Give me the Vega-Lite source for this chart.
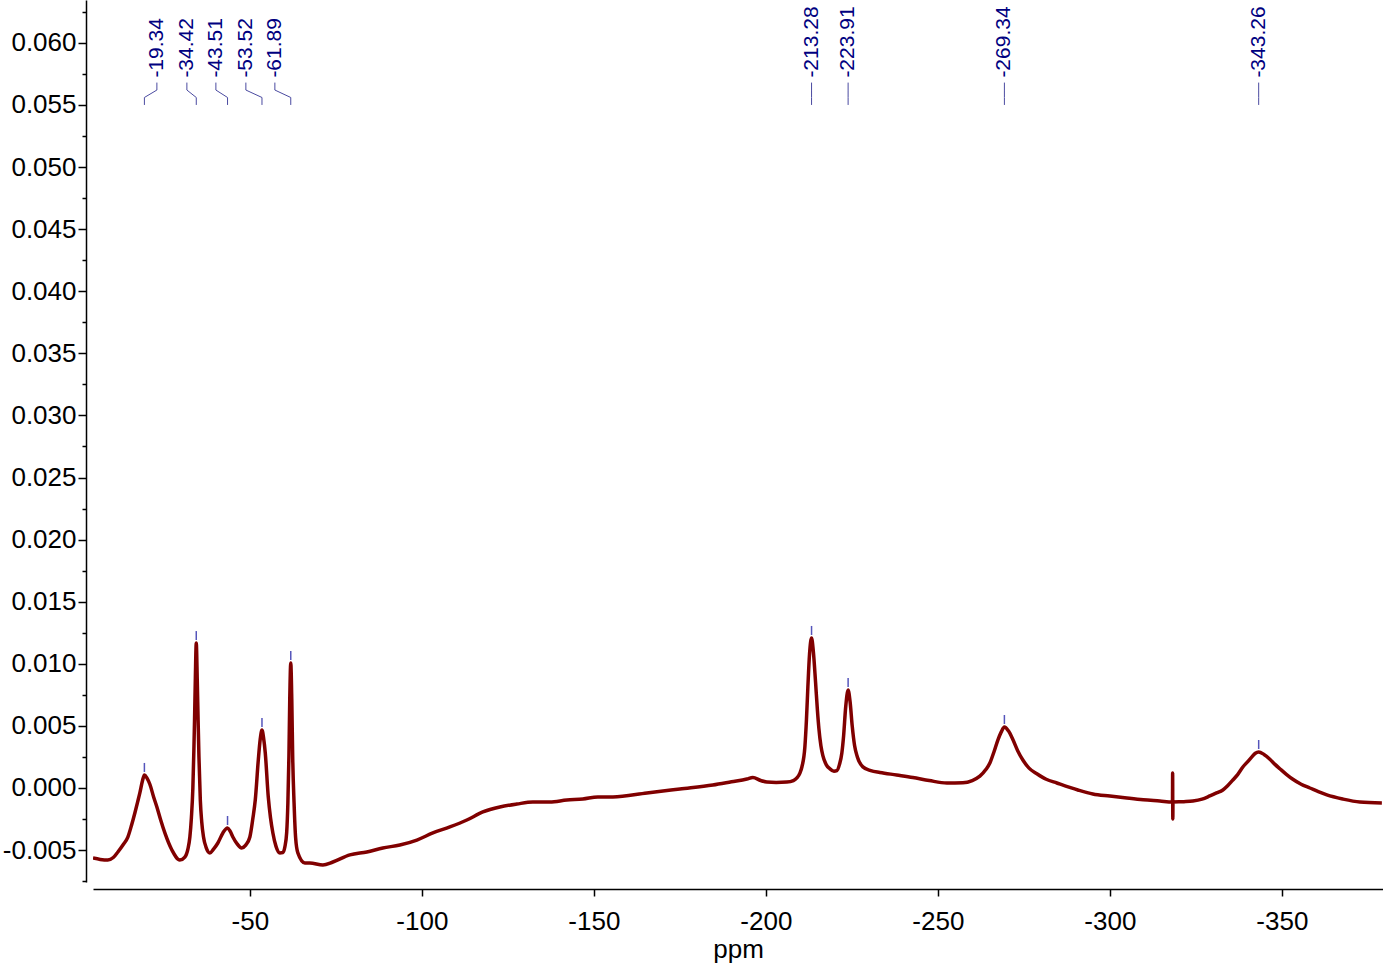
{
  "$schema": "https://vega.github.io/schema/vega-lite/v6.json",
  "width": 1290,
  "height": 882,
  "autosize": "none",
  "padding": {"left": 93, "top": 0, "right": 0, "bottom": 83},
  "background": "white",
  "config": {"view": {"stroke": null}},
  "resolve": {"axis": {"y": "independent"}},
  "datasets": {
    "spectrum": [
      {"ppm": -4.4, "v": -0.00564}, {"ppm": -6.5, "v": -0.00575}, {"ppm": -8.72, "v": -0.0058}, {"ppm": -10.3, "v": -0.0056}, {"ppm": -11.63, "v": -0.00515}, {"ppm": -13.2, "v": -0.00455}, {"ppm": -14.53, "v": -0.00395},
      {"ppm": -15.6, "v": -0.003}, {"ppm": -16.57, "v": -0.00201}, {"ppm": -17.4, "v": -0.0011}, {"ppm": -18.02, "v": -0.0004}, {"ppm": -18.8, "v": 0.0006}, {"ppm": -19.34, "v": 0.00105}, {"ppm": -20.1, "v": 0.0008}, {"ppm": -20.93, "v": 0.0003},
      {"ppm": -22.0, "v": -0.0007}, {"ppm": -22.97, "v": -0.00153}, {"ppm": -24.1, "v": -0.0026}, {"ppm": -25.29, "v": -0.00362}, {"ppm": -27.33, "v": -0.00499}, {"ppm": -29.65, "v": -0.0058},
      {"ppm": -31.1, "v": -0.00556}, {"ppm": -32.0, "v": -0.0049}, {"ppm": -32.56, "v": -0.00395}, {"ppm": -33.0, "v": -0.0024}, {"ppm": -33.43, "v": 0.0}, {"ppm": -33.72, "v": 0.0030}, {"ppm": -33.92, "v": 0.0055},
      {"ppm": -34.15, "v": 0.0088}, {"ppm": -34.42, "v": 0.01167}, {"ppm": -34.7, "v": 0.0088}, {"ppm": -34.95, "v": 0.0055}, {"ppm": -35.2, "v": 0.0025},
      {"ppm": -35.6, "v": -0.001}, {"ppm": -36.0, "v": -0.0027}, {"ppm": -36.5, "v": -0.0039}, {"ppm": -37.3, "v": -0.0048}, {"ppm": -38.37, "v": -0.00523}, {"ppm": -39.5, "v": -0.0049}, {"ppm": -40.7, "v": -0.00443},
      {"ppm": -42.2, "v": -0.0036}, {"ppm": -43.51, "v": -0.00322}, {"ppm": -44.3, "v": -0.0035}, {"ppm": -45.06, "v": -0.00395}, {"ppm": -46.3, "v": -0.0045}, {"ppm": -47.59, "v": -0.00483}, {"ppm": -48.8, "v": -0.0046}, {"ppm": -50.0, "v": -0.00395},
      {"ppm": -50.9, "v": -0.0024}, {"ppm": -51.57, "v": -0.00097}, {"ppm": -52.45, "v": 0.00225}, {"ppm": -53.0, "v": 0.0039}, {"ppm": -53.52, "v": 0.00467}, {"ppm": -54.0, "v": 0.0040}, {"ppm": -54.48, "v": 0.00282},
      {"ppm": -55.35, "v": -0.00072}, {"ppm": -56.0, "v": -0.0024}, {"ppm": -56.69, "v": -0.00362}, {"ppm": -57.6, "v": -0.0047}, {"ppm": -58.72, "v": -0.00523}, {"ppm": -59.6, "v": -0.0052}, {"ppm": -60.17, "v": -0.00475},
      {"ppm": -60.7, "v": -0.0036}, {"ppm": -61.05, "v": -0.00121}, {"ppm": -61.35, "v": 0.0025}, {"ppm": -61.6, "v": 0.0072}, {"ppm": -61.89, "v": 0.01006}, {"ppm": -62.18, "v": 0.0072}, {"ppm": -62.45, "v": 0.0025},
      {"ppm": -62.85, "v": -0.00121}, {"ppm": -63.3, "v": -0.0040}, {"ppm": -63.95, "v": -0.00523}, {"ppm": -65.99, "v": -0.00604}, {"ppm": -67.44, "v": -0.00604},
      {"ppm": -71.22, "v": -0.0062}, {"ppm": -74.13, "v": -0.00596}, {"ppm": -79.07, "v": -0.00539}, {"ppm": -84.01, "v": -0.00515},
      {"ppm": -88.66, "v": -0.00483}, {"ppm": -93.6, "v": -0.00459}, {"ppm": -98.55, "v": -0.00419}, {"ppm": -103.2, "v": -0.00362},
      {"ppm": -108.14, "v": -0.00314}, {"ppm": -113.08, "v": -0.00258}, {"ppm": -117.73, "v": -0.00193}, {"ppm": -122.67, "v": -0.00153},
      {"ppm": -127.62, "v": -0.00129}, {"ppm": -132.27, "v": -0.00113}, {"ppm": -137.21, "v": -0.00113}, {"ppm": -142.15, "v": -0.00097},
      {"ppm": -146.8, "v": -0.00089}, {"ppm": -151.16, "v": -0.00072}, {"ppm": -155.52, "v": -0.00072}, {"ppm": -165.41, "v": -0.0004},
      {"ppm": -175.0, "v": -0.00008}, {"ppm": -184.59, "v": 0.00024}, {"ppm": -190.0, "v": 0.0005}, {"ppm": -194.48, "v": 0.00072}, {"ppm": -196.22, "v": 0.00085},
      {"ppm": -198.5, "v": 0.0006}, {"ppm": -200.29, "v": 0.00048}, {"ppm": -203.0, "v": 0.00045}, {"ppm": -206.1, "v": 0.00048}, {"ppm": -208.0, "v": 0.0006}, {"ppm": -209.01, "v": 0.00081}, {"ppm": -209.9, "v": 0.0012}, {"ppm": -210.47, "v": 0.00169},
      {"ppm": -211.34, "v": 0.0033}, {"ppm": -211.8, "v": 0.0055}, {"ppm": -212.21, "v": 0.00813}, {"ppm": -212.7, "v": 0.0108}, {"ppm": -213.28, "v": 0.01208}, {"ppm": -213.8, "v": 0.0110}, {"ppm": -214.45, "v": 0.0085},
      {"ppm": -215.0, "v": 0.0062}, {"ppm": -215.41, "v": 0.0048}, {"ppm": -216.0, "v": 0.0034}, {"ppm": -216.57, "v": 0.0026}, {"ppm": -217.5, "v": 0.0019}, {"ppm": -218.6, "v": 0.00155}, {"ppm": -219.8, "v": 0.00135}, {"ppm": -220.64, "v": 0.0014},
      {"ppm": -221.4, "v": 0.0019}, {"ppm": -222.09, "v": 0.00282}, {"ppm": -222.6, "v": 0.0042}, {"ppm": -223.2, "v": 0.0065}, {"ppm": -223.91, "v": 0.00789}, {"ppm": -224.5, "v": 0.0069}, {"ppm": -225.1, "v": 0.0050},
      {"ppm": -225.8, "v": 0.0034}, {"ppm": -226.6, "v": 0.0025}, {"ppm": -228.2, "v": 0.0017}, {"ppm": -230.5, "v": 0.0014}, {"ppm": -233.14, "v": 0.00125}, {"ppm": -238.0, "v": 0.00105}, {"ppm": -242.73, "v": 0.00085},
      {"ppm": -247.5, "v": 0.0006}, {"ppm": -252.62, "v": 0.0004}, {"ppm": -257.27, "v": 0.00042}, {"ppm": -260.0, "v": 0.0006}, {"ppm": -262.21, "v": 0.00095}, {"ppm": -264.0, "v": 0.0015}, {"ppm": -265.12, "v": 0.00201}, {"ppm": -266.3, "v": 0.0029},
      {"ppm": -267.44, "v": 0.00386}, {"ppm": -268.4, "v": 0.0045}, {"ppm": -269.34, "v": 0.00491}, {"ppm": -270.5, "v": 0.0046}, {"ppm": -271.8, "v": 0.0039}, {"ppm": -273.2, "v": 0.0030}, {"ppm": -274.71, "v": 0.00225},
      {"ppm": -276.5, "v": 0.0016}, {"ppm": -278.78, "v": 0.00115}, {"ppm": -281.5, "v": 0.0007}, {"ppm": -284.59, "v": 0.0004}, {"ppm": -290.7, "v": -0.00016}, {"ppm": -295.06, "v": -0.00048},
      {"ppm": -300.0, "v": -0.00065}, {"ppm": -304.94, "v": -0.00081}, {"ppm": -309.7, "v": -0.00095}, {"ppm": -314.53, "v": -0.00105}, {"ppm": -318.2, "v": -0.00113}, {"ppm": -318.25, "v": 0.00121},
      {"ppm": -318.3, "v": -0.0025}, {"ppm": -318.35, "v": -0.00113}, {"ppm": -321.5, "v": -0.0011}, {"ppm": -324.13, "v": -0.00105}, {"ppm": -326.8, "v": -0.0009}, {"ppm": -329.07, "v": -0.00064}, {"ppm": -331.0, "v": -0.0004},
      {"ppm": -332.85, "v": -0.00016}, {"ppm": -334.3, "v": 0.0002}, {"ppm": -335.76, "v": 0.00064}, {"ppm": -337.2, "v": 0.0011}, {"ppm": -338.66, "v": 0.00169}, {"ppm": -340.0, "v": 0.0021}, {"ppm": -341.28, "v": 0.0025},
      {"ppm": -342.3, "v": 0.0028}, {"ppm": -343.26, "v": 0.0029}, {"ppm": -344.8, "v": 0.0027}, {"ppm": -346.51, "v": 0.00232}, {"ppm": -348.0, "v": 0.0019}, {"ppm": -349.42, "v": 0.00155}, {"ppm": -351.3, "v": 0.0011}, {"ppm": -353.2, "v": 0.0007},
      {"ppm": -355.6, "v": 0.0003}, {"ppm": -358.14, "v": 0.0}, {"ppm": -360.6, "v": -0.0003}, {"ppm": -363.08, "v": -0.00056}, {"ppm": -367.73, "v": -0.00089}, {"ppm": -372.67, "v": -0.00113},
      {"ppm": -379.07, "v": -0.00121}
    ],
    "peaks": [
      {"ppm": -19.34, "label_ppm": -22.97, "h": 0.00105, "label": "-19.34"},
      {"ppm": -34.42, "label_ppm": -31.69, "h": 0.01167, "label": "-34.42"},
      {"ppm": -43.51, "label_ppm": -40.12, "h": -0.00322, "label": "-43.51"},
      {"ppm": -53.52, "label_ppm": -48.84, "h": 0.00467, "label": "-53.52"},
      {"ppm": -61.89, "label_ppm": -57.27, "h": 0.01006, "label": "-61.89"},
      {"ppm": -213.28, "label_ppm": -213.28, "h": 0.01208, "label": "-213.28"},
      {"ppm": -223.91, "label_ppm": -223.91, "h": 0.00789, "label": "-223.91"},
      {"ppm": -269.34, "label_ppm": -269.34, "h": 0.00491, "label": "-269.34"},
      {"ppm": -343.26, "label_ppm": -343.26, "h": 0.0029, "label": "-343.26"}
    ]
  },
  "layer": [
    {
      "data": {"name": "spectrum"},
      "mark": {"type": "line", "color": "#800000", "strokeWidth": 3.5, "interpolate": "monotone", "clip": true},
      "encoding": {
        "x": {
          "field": "ppm", "type": "quantitative", "title": "ppm",
          "scale": {"domain": [-379.4, -4.4], "reverse": true, "nice": false, "zero": false},
          "axis": {
            "title": "ppm", "values": [-50, -100, -150, -200, -250, -300, -350],
            "labelExpr": "replace(format(datum.value, 'd'), '−', '-')",
            "offset": 7, "grid": false, "tickSize": 7, "tickWidth": 1.5, "tickColor": "#000",
            "domainColor": "#000", "domainWidth": 1.5,
            "labelFont": "Liberation Sans", "labelFontSize": 26, "labelColor": "#000", "labelPadding": 12,
            "labelFlush": false, "labelOverlap": false,
            "titleFont": "Liberation Sans", "titleFontSize": 26, "titleFontWeight": "normal", "titleColor": "#000", "titlePadding": 2
          }
        },
        "y": {
          "field": "v", "type": "quantitative", "title": null,
          "scale": {"domain": [-0.00757, 0.06345], "nice": false, "zero": false},
          "axis": {
            "orient": "left", "title": null,
            "values": [-0.005, 0, 0.005, 0.01, 0.015, 0.02, 0.025, 0.03, 0.035, 0.04, 0.045, 0.05, 0.055, 0.06],
            "labelExpr": "replace(format(datum.value, '.3f'), '−', '-')",
            "tickSize": 8,
            "offset": 7, "grid": false, "tickWidth": 1.5, "tickColor": "#000",
            "domainColor": "#000", "domainWidth": 1.5,
            "labelFont": "Liberation Sans", "labelFontSize": 26, "labelColor": "#000", "labelPadding": 2,
            "labelFlush": false, "labelOverlap": false
          }
        }
      }
    },
    {
      "data": {"name": "peaks"},
      "mark": {"type": "rule", "color": "#5555bb", "strokeWidth": 1.5, "yOffset": -3, "y2Offset": -12},
      "encoding": {
        "x": {"field": "ppm", "type": "quantitative", "title": "ppm"},
        "y": {
          "field": "h", "type": "quantitative", "title": null,
          "axis": {
            "orient": "left", "title": null,
            "values": [-0.0075, -0.0025, 0.0025, 0.0075, 0.0125, 0.0175, 0.0225, 0.0275, 0.0325, 0.0375, 0.0425, 0.0475, 0.0525, 0.0575, 0.0625],
            "labels": false, "domain": false, "grid": false,
            "tickSize": 4, "offset": 7, "tickWidth": 1.5, "tickColor": "#000"
          }
        },
        "y2": {"field": "h"}
      }
    },
    {
      "data": {"name": "peaks"},
      "mark": {"type": "rule", "color": "#4a4aa0", "strokeWidth": 1},
      "encoding": {
        "x": {"field": "label_ppm", "type": "quantitative", "title": "ppm"},
        "y": {"datum": 0.0568, "type": "quantitative", "axis": null},
        "y2": {"datum": 0.0562}
      }
    },
    {
      "data": {"name": "peaks"},
      "mark": {"type": "rule", "color": "#4a4aa0", "strokeWidth": 1},
      "encoding": {
        "x": {"field": "label_ppm", "type": "quantitative", "title": "ppm"},
        "x2": {"field": "ppm"},
        "y": {"datum": 0.0562, "type": "quantitative", "axis": null},
        "y2": {"datum": 0.0556}
      }
    },
    {
      "data": {"name": "peaks"},
      "mark": {"type": "rule", "color": "#4a4aa0", "strokeWidth": 1},
      "encoding": {
        "x": {"field": "ppm", "type": "quantitative", "title": "ppm"},
        "y": {"datum": 0.0556, "type": "quantitative", "axis": null},
        "y2": {"datum": 0.055}
      }
    },
    {
      "data": {"name": "peaks"},
      "mark": {"type": "text", "angle": 270, "align": "left", "baseline": "middle", "font": "Liberation Sans", "fontSize": 21, "color": "#000080"},
      "encoding": {
        "x": {"field": "label_ppm", "type": "quantitative", "title": "ppm"},
        "y": {"datum": 0.0572, "type": "quantitative", "axis": null},
        "text": {"field": "label"}
      }
    }
  ]
}
